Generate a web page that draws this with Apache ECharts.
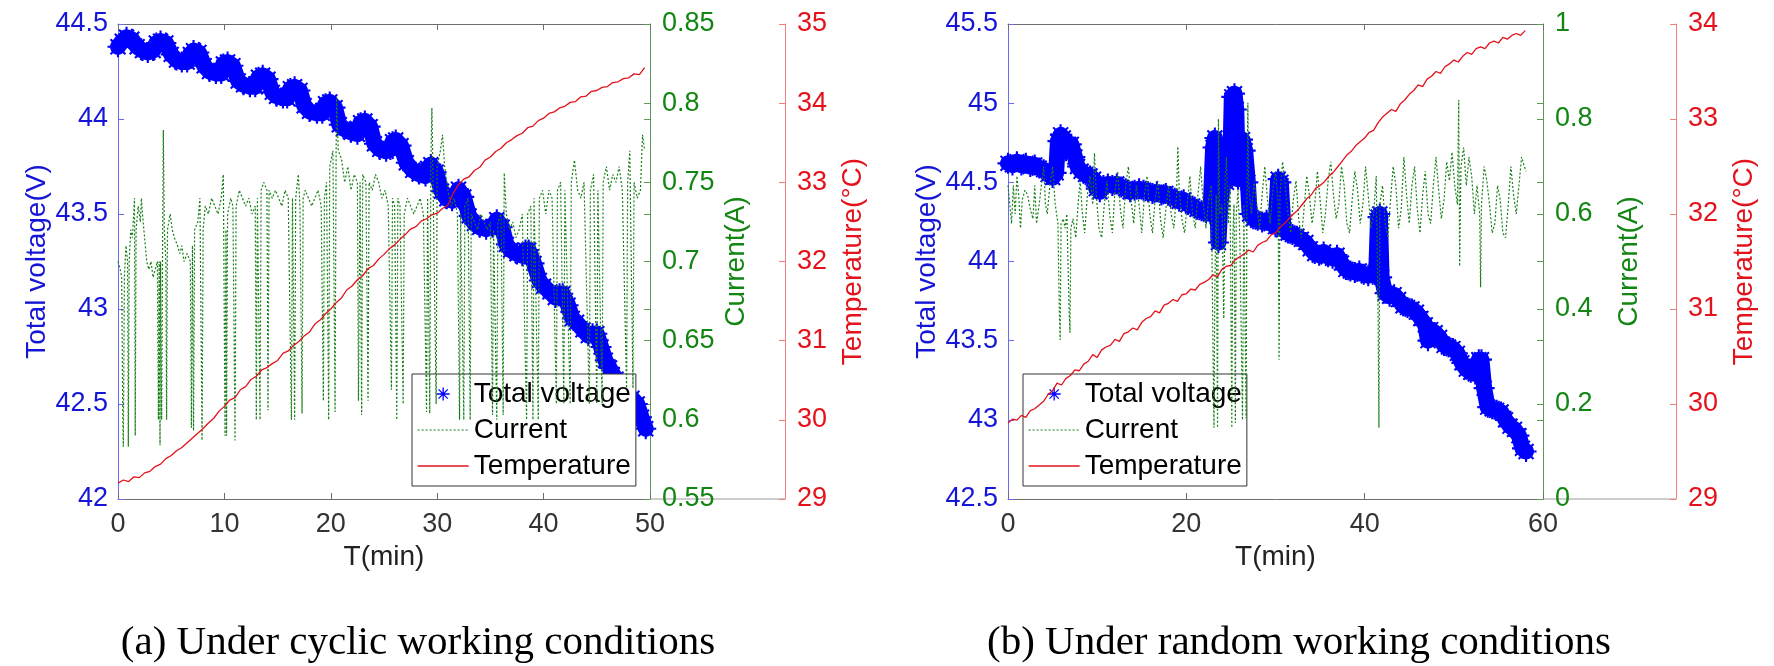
<!DOCTYPE html>
<html>
<head>
<meta charset="utf-8">
<script src="https://cdn.jsdelivr.net/npm/echarts@6/dist/echarts.min.js"></script>
<style>
html,body{margin:0;padding:0;background:#fff;}
#chart{width:1774px;height:666px;}
</style>
</head>
<body>
<div id="chart"></div>
<script>
// ---------------- DATA ----------------
// (a) cyclic working conditions : [time(min), value]
const voltA = [[0,44.38],[0.4,44.41],[0.8,44.43],[1.3,44.42],[1.8,44.38],[2.3,44.36],[2.8,44.35],[3.3,44.36],[3.6,44.40],[4.0,44.41],[4.5,44.40],[5.0,44.34],[5.5,44.31],[6.0,44.30],[6.5,44.30],[6.8,44.34],[7.1,44.36],[7.6,44.35],[8.1,44.28],[8.6,44.25],[9.2,44.24],[9.7,44.24],[9.9,44.29],[10.3,44.30],[10.8,44.28],[11.3,44.20],[11.8,44.18],[12.4,44.17],[12.9,44.17],[13.2,44.22],[13.6,44.23],[14.1,44.21],[14.5,44.14],[14.9,44.12],[15.5,44.11],[15.9,44.11],[16.2,44.16],[16.6,44.17],[17.1,44.15],[17.5,44.07],[18.0,44.04],[18.7,44.03],[19.2,44.03],[19.5,44.08],[19.9,44.09],[20.4,44.06],[20.8,43.97],[21.2,43.95],[21.9,43.93],[22.5,43.92],[22.8,43.98],[23.2,43.99],[23.7,43.96],[24.1,43.87],[24.6,43.84],[25.2,43.83],[25.6,43.84],[25.8,43.88],[26.1,43.89],[26.6,43.86],[27.1,43.77],[27.7,43.73],[28.3,43.71],[28.9,43.70],[29.1,43.74],[29.4,43.76],[29.9,43.72],[30.4,43.62],[30.9,43.58],[31.4,43.57],[31.7,43.60],[32.0,43.63],[32.5,43.59],[33.0,43.49],[33.5,43.45],[34.0,43.43],[34.6,43.42],[35.2,43.43],[35.6,43.47],[36.1,43.43],[36.5,43.34],[36.9,43.31],[37.5,43.29],[38.0,43.28],[38.3,43.31],[38.6,43.31],[39.1,43.24],[39.6,43.15],[40.0,43.12],[40.6,43.09],[41.1,43.06],[41.5,43.08],[41.8,43.08],[42.3,43.02],[42.7,42.95],[43.1,42.93],[43.7,42.89],[44.2,42.86],[44.6,42.87],[45.0,42.87],[45.4,42.80],[45.8,42.73],[46.2,42.69],[46.8,42.63],[47.3,42.58],[47.8,42.55],[48.3,42.53],[48.8,42.50],[49.2,42.43],[49.6,42.37]];

const currA = [[0.0,0.70],[0.2,0.695],[0.35,0.69],[0.45,0.60],[0.5,0.583],[0.6,0.69],[0.75,0.71],[0.9,0.70],[0.97,0.583],[1.05,0.70],[1.2,0.72],[1.35,0.715],[1.55,0.74],[1.62,0.59],[1.7,0.72],[1.9,0.735],[2.1,0.725],[2.2,0.74],[2.3,0.73],[2.5,0.715],[2.7,0.70],[2.9,0.695],[3.1,0.70],[3.3,0.69],[3.5,0.695],[3.7,0.70],[3.8,0.60],[3.87,0.70],[3.95,0.584],[4.0,0.70],[4.1,0.60],[4.2,0.72],[4.26,0.783],[4.35,0.72],[4.5,0.70],[4.57,0.60],[4.65,0.72],[4.9,0.73],[5.1,0.72],[5.3,0.715],[5.6,0.71],[5.8,0.705],[6.0,0.71],[6.2,0.70],[6.5,0.705],[6.8,0.70],[6.9,0.595],[7.0,0.71],[7.1,0.593],[7.2,0.72],[7.5,0.725],[7.7,0.74],[7.9,0.587],[8.0,0.72],[8.2,0.735],[8.5,0.73],[8.8,0.74],[9.1,0.735],[9.4,0.73],[9.7,0.74],[9.9,0.755],[10.06,0.59],[10.15,0.72],[10.2,0.59],[10.3,0.73],[10.6,0.74],[10.8,0.735],[11.0,0.587],[11.1,0.735],[11.4,0.745],[11.7,0.74],[12.0,0.735],[12.3,0.74],[12.6,0.73],[12.9,0.735],[13.0,0.60],[13.1,0.74],[13.35,0.60],[13.45,0.745],[13.7,0.75],[14.0,0.745],[14.1,0.606],[14.2,0.745],[14.5,0.74],[14.8,0.745],[15.1,0.74],[15.4,0.735],[15.7,0.745],[16.0,0.74],[16.3,0.60],[16.4,0.74],[16.6,0.60],[16.7,0.74],[16.95,0.755],[17.1,0.735],[17.3,0.604],[17.4,0.74],[17.6,0.745],[17.9,0.74],[18.2,0.735],[18.5,0.74],[18.8,0.745],[19.1,0.735],[19.3,0.612],[19.4,0.74],[19.6,0.75],[19.8,0.60],[19.9,0.76],[20.2,0.77],[20.4,0.605],[20.5,0.77],[20.55,0.804],[20.7,0.77],[21.0,0.765],[21.3,0.75],[21.6,0.76],[21.9,0.745],[22.2,0.755],[22.5,0.75],[22.6,0.612],[22.75,0.75],[22.9,0.603],[23.0,0.755],[23.3,0.75],[23.5,0.612],[23.6,0.75],[23.9,0.745],[24.2,0.755],[24.5,0.75],[24.8,0.74],[25.1,0.745],[25.4,0.735],[25.7,0.619],[25.8,0.74],[26.0,0.735],[26.2,0.60],[26.3,0.74],[26.5,0.735],[26.8,0.61],[26.9,0.73],[27.2,0.74],[27.5,0.735],[27.8,0.73],[28.1,0.735],[28.4,0.74],[28.7,0.73],[29.0,0.605],[29.1,0.74],[29.3,0.604],[29.4,0.76],[29.5,0.797],[29.6,0.755],[29.9,0.61],[30.0,0.76],[30.3,0.77],[30.5,0.78],[30.7,0.76],[31.0,0.745],[31.3,0.735],[31.6,0.74],[31.9,0.73],[32.1,0.60],[32.2,0.73],[32.5,0.60],[32.6,0.735],[32.9,0.74],[33.1,0.60],[33.2,0.73],[33.5,0.725],[33.8,0.72],[34.1,0.73],[34.4,0.725],[34.7,0.72],[35.0,0.725],[35.2,0.603],[35.3,0.72],[35.6,0.60],[35.7,0.725],[36.0,0.73],[36.2,0.603],[36.3,0.756],[36.5,0.73],[36.8,0.72],[37.1,0.725],[37.4,0.715],[37.7,0.72],[38.0,0.73],[38.4,0.60],[38.5,0.73],[38.8,0.735],[39.0,0.60],[39.1,0.74],[39.5,0.60],[39.6,0.74],[39.9,0.745],[40.2,0.73],[40.5,0.745],[40.8,0.74],[41.2,0.61],[41.3,0.745],[41.6,0.75],[41.9,0.61],[42.0,0.745],[42.5,0.61],[42.6,0.75],[42.9,0.764],[43.2,0.745],[43.5,0.74],[43.8,0.75],[44.3,0.61],[44.4,0.745],[44.7,0.755],[45.0,0.61],[45.1,0.745],[45.5,0.61],[45.6,0.75],[45.9,0.76],[46.2,0.745],[46.5,0.755],[46.8,0.75],[47.1,0.76],[47.4,0.745],[47.8,0.62],[47.9,0.75],[48.1,0.77],[48.4,0.62],[48.5,0.75],[48.8,0.74],[49.1,0.745],[49.3,0.78],[49.5,0.77]];

const tempA = [[0,29.20],[0.5,29.24],[1,29.22],[1.5,29.28],[2,29.27],[2.5,29.33],[3,29.35],[3.5,29.41],[4,29.44],[4.5,29.51],[5,29.55],[5.5,29.61],[6,29.65],[6.5,29.71],[7,29.77],[7.5,29.83],[8,29.89],[8.5,29.96],[9,30.02],[9.5,30.11],[10,30.17],[10.5,30.25],[11,30.28],[11.5,30.38],[12,30.42],[12.5,30.51],[13,30.55],[13.5,30.63],[14,30.66],[14.5,30.71],[15,30.75],[15.5,30.84],[16,30.87],[16.5,30.94],[17,30.99],[17.5,31.06],[18,31.11],[18.5,31.21],[19,31.26],[19.5,31.34],[20,31.40],[20.5,31.48],[21,31.54],[21.5,31.64],[22,31.69],[22.5,31.77],[23,31.82],[23.5,31.91],[24,31.95],[24.5,32.03],[25,32.09],[25.5,32.16],[26,32.21],[26.5,32.28],[27,32.34],[27.5,32.41],[28,32.44],[28.5,32.51],[29,32.54],[29.5,32.59],[30,32.61],[30.5,32.67],[31,32.71],[31.5,32.86],[32,32.97],[32.5,33.04],[33,33.07],[33.5,33.15],[34,33.19],[34.5,33.28],[35,33.32],[35.5,33.39],[36,33.43],[36.5,33.50],[37,33.54],[37.5,33.59],[38,33.62],[38.5,33.69],[39,33.71],[39.5,33.78],[40,33.81],[40.5,33.87],[41,33.89],[41.5,33.94],[42,33.96],[42.5,34.01],[43,34.02],[43.5,34.08],[44,34.09],[44.5,34.15],[45,34.16],[45.5,34.20],[46,34.21],[46.5,34.26],[47,34.27],[47.5,34.31],[48,34.32],[48.5,34.37],[49,34.36],[49.5,34.45]];

// (b) random working conditions : [time(min), value]
const voltB = [[0.0,44.62],[0.5,44.61],[1.0,44.63],[1.5,44.61],[2.0,44.62],[2.5,44.60],[3.0,44.61],[3.5,44.59],[4.0,44.58],[4.5,44.55],[5.0,44.53],[5.4,44.56],[5.6,44.76],[5.9,44.80],[6.2,44.78],[6.5,44.70],[6.8,44.74],[7.1,44.74],[7.5,44.66],[7.8,44.60],[8.2,44.57],[8.7,44.55],[9.2,44.54],[9.6,44.52],[9.9,44.46],[10.3,44.44],[10.7,44.48],[11.2,44.49],[11.7,44.48],[12.2,44.49],[12.7,44.47],[13.2,44.46],[13.7,44.44],[14.2,44.45],[14.7,44.46],[15.2,44.45],[15.7,44.44],[16.2,44.43],[16.7,44.44],[17.2,44.42],[17.7,44.43],[18.2,44.41],[18.7,44.40],[19.2,44.38],[19.7,44.39],[20.2,44.36],[20.7,44.35],[21.2,44.33],[21.7,44.32],[22.2,44.31],[22.7,44.30],[23.0,44.72],[23.2,44.78],[23.4,44.60],[23.6,44.12],[23.8,44.35],[24.1,44.48],[24.5,44.50],[24.9,44.55],[25.1,45.04],[25.4,45.06],[25.6,44.96],[25.8,44.52],[26.0,44.75],[26.3,44.77],[26.6,44.70],[26.9,44.50],[27.1,44.30],[27.5,44.27],[28.0,44.26],[28.5,44.25],[29.0,44.26],[29.5,44.24],[30.0,44.22],[30.3,44.52],[30.6,44.50],[30.9,44.20],[31.4,44.18],[31.9,44.17],[32.4,44.16],[32.9,44.14],[33.4,44.12],[33.9,44.08],[34.4,44.05],[34.9,44.04],[35.4,44.06],[35.9,44.03],[36.4,44.02],[36.9,44.04],[37.4,43.99],[37.9,43.95],[38.4,43.94],[38.9,43.93],[39.4,43.94],[39.9,43.92],[40.4,43.91],[40.9,43.92],[41.3,43.94],[41.5,44.28],[41.7,44.30],[41.9,43.90],[42.3,43.80],[42.8,43.78],[43.3,43.79],[43.8,43.76],[44.3,43.72],[44.8,43.71],[45.3,43.70],[45.8,43.68],[46.3,43.64],[46.8,43.60],[47.1,43.50],[47.4,43.57],[47.9,43.55],[48.4,43.52],[48.9,43.47],[49.4,43.46],[49.9,43.45],[50.4,43.42],[50.9,43.36],[51.4,43.32],[51.9,43.30],[52.4,43.29],[52.8,43.38],[53.1,43.38],[53.4,43.20],[53.8,43.08],[54.3,43.07],[54.8,43.06],[55.3,43.05],[55.8,43.00],[56.3,42.96],[56.8,42.94],[57.3,42.90],[57.7,42.82],[58.1,42.80]];

const currB = [[0.0,0.66],[0.2,0.62],[0.4,0.58],[0.6,0.66],[0.8,0.60],[1.0,0.68],[1.2,0.64],[1.4,0.57],[1.6,0.63],[1.9,0.65],[2.2,0.64],[2.5,0.61],[2.8,0.59],[3.0,0.66],[3.2,0.58],[3.5,0.62],[3.8,0.67],[4.0,0.70],[4.2,0.62],[4.4,0.60],[4.7,0.66],[5.0,0.70],[5.3,0.62],[5.6,0.58],[5.75,0.40],[5.85,0.335],[5.95,0.58],[6.2,0.59],[6.4,0.57],[6.6,0.60],[6.85,0.40],[6.95,0.35],[7.05,0.57],[7.3,0.59],[7.6,0.55],[7.9,0.63],[8.1,0.67],[8.3,0.61],[8.6,0.56],[8.9,0.64],[9.2,0.68],[9.5,0.62],[9.7,0.728],[9.9,0.64],[10.2,0.57],[10.5,0.55],[10.8,0.62],[11.1,0.67],[11.4,0.60],[11.7,0.56],[12.0,0.65],[12.3,0.69],[12.6,0.61],[12.9,0.57],[13.2,0.66],[13.5,0.70],[13.8,0.63],[14.1,0.58],[14.4,0.66],[14.7,0.62],[15.0,0.56],[15.3,0.64],[15.6,0.68],[15.9,0.60],[16.2,0.56],[16.5,0.63],[16.8,0.67],[17.1,0.59],[17.4,0.55],[17.7,0.61],[18.0,0.66],[18.3,0.60],[18.6,0.57],[18.9,0.64],[19.05,0.742],[19.2,0.65],[19.5,0.59],[19.8,0.56],[20.1,0.62],[20.4,0.68],[20.7,0.60],[21.0,0.57],[21.3,0.64],[21.6,0.70],[21.9,0.62],[22.2,0.57],[22.5,0.63],[22.8,0.66],[23.0,0.30],[23.1,0.15],[23.2,0.45],[23.35,0.64],[23.5,0.15],[23.6,0.80],[23.75,0.60],[24.0,0.62],[24.2,0.38],[24.35,0.68],[24.5,0.72],[24.7,0.58],[24.9,0.66],[25.1,0.15],[25.2,0.55],[25.35,0.62],[25.5,0.16],[25.6,0.60],[25.8,0.65],[26.0,0.55],[26.3,0.166],[26.45,0.62],[26.7,0.17],[26.8,0.64],[26.9,0.834],[27.0,0.66],[27.3,0.60],[27.6,0.67],[27.9,0.62],[28.2,0.57],[28.5,0.64],[28.8,0.70],[29.1,0.63],[29.4,0.58],[29.7,0.65],[30.0,0.69],[30.3,0.62],[30.4,0.293],[30.5,0.64],[30.8,0.71],[31.1,0.66],[31.4,0.60],[31.7,0.56],[32.0,0.63],[32.3,0.67],[32.6,0.59],[32.9,0.55],[33.2,0.61],[33.5,0.68],[33.8,0.64],[34.1,0.58],[34.4,0.62],[34.7,0.69],[35.0,0.63],[35.3,0.56],[35.6,0.60],[35.9,0.67],[36.2,0.71],[36.5,0.64],[36.8,0.59],[37.1,0.62],[37.4,0.70],[37.7,0.66],[38.0,0.58],[38.3,0.56],[38.6,0.63],[38.9,0.69],[39.2,0.65],[39.5,0.58],[39.8,0.62],[40.1,0.70],[40.4,0.64],[40.7,0.57],[41.0,0.60],[41.3,0.68],[41.5,0.40],[41.6,0.15],[41.7,0.62],[42.0,0.66],[42.3,0.58],[42.6,0.55],[42.9,0.63],[43.2,0.70],[43.5,0.66],[43.8,0.57],[44.1,0.61],[44.4,0.72],[44.7,0.64],[45.0,0.58],[45.3,0.66],[45.6,0.70],[45.9,0.61],[46.2,0.56],[46.5,0.64],[46.8,0.69],[47.1,0.60],[47.4,0.58],[47.7,0.66],[48.0,0.72],[48.3,0.65],[48.6,0.59],[48.9,0.63],[49.2,0.71],[49.5,0.67],[49.8,0.73],[50.1,0.66],[50.4,0.62],[50.55,0.84],[50.65,0.49],[50.8,0.70],[51.1,0.74],[51.4,0.66],[51.7,0.72],[52.0,0.68],[52.3,0.60],[52.6,0.66],[52.9,0.60],[53.0,0.446],[53.1,0.62],[53.4,0.70],[53.7,0.67],[54.0,0.62],[54.3,0.56],[54.6,0.58],[54.9,0.66],[55.2,0.63],[55.5,0.56],[55.8,0.55],[56.1,0.62],[56.4,0.70],[56.7,0.64],[57.0,0.60],[57.3,0.66],[57.6,0.72],[57.9,0.70],[58.1,0.69]];

const tempB = [[0,29.80],[0.5,29.84],[1,29.83],[1.5,29.88],[2,29.86],[2.5,29.93],[3,29.95],[3.5,29.99],[4,30.03],[4.5,30.10],[5,30.14],[5.5,30.22],[6,30.20],[6.5,30.27],[7,30.30],[7.5,30.36],[8,30.35],[8.5,30.42],[9,30.45],[9.5,30.52],[10,30.49],[10.5,30.57],[11,30.60],[11.5,30.62],[12,30.68],[12.5,30.66],[13,30.74],[13.5,30.76],[14,30.80],[14.5,30.78],[15,30.86],[15.5,30.90],[16,30.92],[16.5,30.98],[17,30.96],[17.5,31.04],[18,31.06],[18.5,31.10],[19,31.08],[19.5,31.15],[20,31.16],[20.5,31.21],[21,31.20],[21.5,31.26],[22,31.28],[22.5,31.31],[23,31.36],[23.5,31.34],[24,31.42],[24.5,31.45],[25,31.46],[25.5,31.52],[26,31.55],[26.5,31.58],[27,31.62],[27.5,31.60],[28,31.67],[28.5,31.70],[29,31.72],[29.5,31.78],[30,31.80],[30.5,31.86],[31,31.90],[31.5,31.95],[32,32.00],[32.5,32.04],[33,32.10],[33.5,32.16],[34,32.20],[34.5,32.27],[35,32.30],[35.5,32.34],[36,32.40],[36.5,32.44],[37,32.50],[37.5,32.56],[38,32.62],[38.5,32.66],[39,32.72],[39.5,32.76],[40,32.80],[40.5,32.86],[41,32.88],[41.5,32.96],[42,33.02],[42.5,33.06],[43,33.10],[43.5,33.08],[44,33.16],[44.5,33.20],[45,33.26],[45.5,33.30],[46,33.36],[46.5,33.34],[47,33.42],[47.5,33.45],[48,33.50],[48.5,33.48],[49,33.55],[49.5,33.58],[50,33.62],[50.5,33.60],[51,33.66],[51.5,33.70],[52,33.68],[52.5,33.74],[53,33.76],[53.5,33.74],[54,33.80],[54.5,33.82],[55,33.80],[55.5,33.86],[56,33.84],[56.5,33.88],[57,33.90],[57.5,33.88],[58,33.93]];

const seriesNames = ['Total voltage', 'Current', 'Temperature'];
const axisNames = { x: 'T(min)', volt: 'Total voltage(V)', curr: 'Current(A)', temp: 'Temperature(°C)' };
const captions = ['(a) Under cyclic working conditions', '(b) Under random working conditions'];
// axis ranges: [min, max, interval]
const xRangeA = [0, 50, 10], voltRangeA = [42, 44.5, 0.5], currRangeA = [0.55, 0.85, 0.05], tempRangeA = [29, 35, 1];
const xRangeB = [0, 60, 20], voltRangeB = [42.5, 45.5, 0.5], currRangeB = [0, 1, 0.2], tempRangeB = [29, 34, 1];

// ---------------- STYLE / LAYOUT ----------------
const FONT = '"Liberation Sans", Arial, Helvetica, sans-serif';
const SERIF = '"Liberation Serif", "Times New Roman", serif';
const BLUE = '#0000ff', BLUE_TXT = '#1515d8', BLUE_AX = '#6a6af0';
const GREEN = '#167f16', GREEN_TXT = '#138513', GREEN_AX = '#5a9a5a';
const RED = '#e3121b', RED_TXT = '#e3121b', RED_AX = '#f08080';
const GRAY = '#6e6e6e';
const STAR = 'path://M9 0H11V20H9Z M0 9H20V11H0Z M2.2 3.6L3.6 2.2L17.8 16.4L16.4 17.8Z M16.4 2.2L17.8 3.6L3.6 17.8L2.2 16.4Z';

const G = [
  { left: 118, top: 24, width: 532, height: 475, tempOffset: 135, legendLeft: 412, capX: 418 },
  { left: 1008, top: 24, width: 535, height: 475, tempOffset: 133, legendLeft: 1023, capX: 1299 }
];

function xAxes(gi, r) {
  return [
    { gridIndex: gi, type: 'value', position: 'bottom', min: r[0], max: r[1], interval: r[2],
      name: axisNames.x, nameLocation: 'middle', nameGap: 44,
      nameTextStyle: { fontSize: 28, color: '#222', fontFamily: FONT },
      axisLine: { show: true, onZero: false, lineStyle: { color: GRAY, width: 1 } },
      axisTick: { show: true, inside: true, length: 6, lineStyle: { color: GRAY } },
      axisLabel: { fontSize: 27, color: '#333', margin: 12, fontFamily: FONT },
      splitLine: { show: false } },
    { gridIndex: gi, type: 'value', position: 'top', min: r[0], max: r[1], interval: r[2],
      axisLine: { show: true, onZero: false, lineStyle: { color: GRAY, width: 1 } },
      axisTick: { show: true, inside: true, length: 6, lineStyle: { color: GRAY } },
      axisLabel: { show: false }, splitLine: { show: false } }
  ];
}
function yAxes(gi, vr, cr, tr, off) {
  return [
    { gridIndex: gi, type: 'value', position: 'left', min: vr[0], max: vr[1], interval: vr[2],
      name: axisNames.volt, nameLocation: 'middle', nameGap: 66,
      nameTextStyle: { fontSize: 28, color: BLUE_TXT, fontFamily: FONT },
      axisLine: { show: true, onZero: false, lineStyle: { color: BLUE_AX } },
      axisTick: { show: true, inside: true, length: 6, lineStyle: { color: BLUE_AX } },
      axisLabel: { fontSize: 27, color: BLUE_TXT, margin: 10, fontFamily: FONT },
      splitLine: { show: false } },
    { gridIndex: gi, type: 'value', position: 'right', offset: 0, min: cr[0], max: cr[1], interval: cr[2],
      name: axisNames.curr, nameLocation: 'middle', nameGap: 72,
      nameTextStyle: { fontSize: 28, color: GREEN_TXT, fontFamily: FONT },
      axisLine: { show: true, onZero: false, lineStyle: { color: GREEN_AX } },
      axisTick: { show: true, inside: true, length: 6, lineStyle: { color: GREEN_AX } },
      axisLabel: { fontSize: 27, color: GREEN_TXT, margin: 12, fontFamily: FONT },
      splitLine: { show: false } },
    { gridIndex: gi, type: 'value', position: 'right', offset: off, min: tr[0], max: tr[1], interval: tr[2],
      name: axisNames.temp, nameLocation: 'middle', nameGap: 54,
      nameTextStyle: { fontSize: 28, color: RED_TXT, fontFamily: FONT },
      axisLine: { show: true, onZero: false, lineStyle: { color: RED_AX } },
      axisTick: { show: true, inside: true, length: 6, lineStyle: { color: RED_AX } },
      axisLabel: { fontSize: 27, color: RED_TXT, margin: 12, fontFamily: FONT },
      splitLine: { show: false } },
    // mirrored voltage ticks on the right edge of the box
    { gridIndex: gi, type: 'value', position: 'right', offset: 0, min: vr[0], max: vr[1], interval: vr[2],
      axisLine: { show: false, onZero: false },
      axisTick: { show: true, inside: true, length: 6, lineStyle: { color: GREEN_AX } },
      axisLabel: { show: false }, splitLine: { show: false } }
  ];
}
function seriesFor(gi, volt, curr, temp) {
  const xi = gi * 2, yi = gi * 4;
  return [
    { name: seriesNames[0], type: 'line', xAxisIndex: xi, yAxisIndex: yi, data: volt,
      symbol: STAR, symbolSize: 21, showSymbol: true, showAllSymbol: true,
      itemStyle: { color: BLUE }, lineStyle: { color: BLUE, width: 16, join: 'round', cap: 'round' },
      z: 2, silent: true },
    { name: seriesNames[1], type: 'line', xAxisIndex: xi, yAxisIndex: yi + 1, data: curr,
      symbol: 'none', itemStyle: { color: GREEN },
      lineStyle: { color: GREEN, width: 1.2, type: [2, 2] }, z: 6, silent: true },
    { name: seriesNames[2], type: 'line', xAxisIndex: xi, yAxisIndex: yi + 2, data: temp,
      symbol: 'none', itemStyle: { color: RED },
      lineStyle: { color: RED, width: 1.3 }, z: 6, silent: true }
  ];
}
const hiddenSymbol = { color: 'rgba(0,0,0,0)', borderColor: 'rgba(0,0,0,0)', borderWidth: 0, opacity: 0 };
function legendFor(g) {
  return { left: g.legendLeft, top: 374, orient: 'vertical', selectedMode: false,
    backgroundColor: '#fff', borderColor: '#333', borderWidth: 1, borderRadius: 0,
    padding: [6, 5, 6, 5], itemGap: 8, itemWidth: 51, itemHeight: 13,
    textStyle: { fontSize: 28, color: '#000', fontFamily: FONT },
    data: [{ name: seriesNames[0], icon: STAR },
           { name: seriesNames[1], itemStyle: hiddenSymbol, lineStyle: { color: GREEN, width: 1.2, type: [2, 2] } },
           { name: seriesNames[2], itemStyle: hiddenSymbol, lineStyle: { color: RED, width: 1.3 } }] };
}

const option = {
  animation: false,
  backgroundColor: '#fff',
  grid: G.map(g => ({ left: g.left, top: g.top, width: g.width, height: g.height, containLabel: false })),
  xAxis: [...xAxes(0, xRangeA), ...xAxes(1, xRangeB)],
  yAxis: [...yAxes(0, voltRangeA, currRangeA, tempRangeA, G[0].tempOffset),
          ...yAxes(1, voltRangeB, currRangeB, tempRangeB, G[1].tempOffset)],
  legend: [legendFor(G[0]), legendFor(G[1])],
  series: [...seriesFor(0, voltA, currA, tempA), ...seriesFor(1, voltB, currB, tempB)],
  graphic: [
    ...G.map(g => ({ type: 'line', silent: true,
      shape: { x1: g.left + g.width, y1: g.top + g.height, x2: g.left + g.width + g.tempOffset, y2: g.top + g.height },
      style: { stroke: '#9a9a9a', lineWidth: 1 } })),
    ...G.map((g, i) => ({ type: 'text', x: g.capX, y: 643, silent: true,
      style: { text: captions[i], fontSize: 41, fontFamily: SERIF, fill: '#000',
               align: 'center', verticalAlign: 'middle', textAlign: 'center', textVerticalAlign: 'middle' } }))
  ]
};

const chart = echarts.init(document.getElementById('chart'), null, { renderer: 'canvas' });
chart.setOption(option);
</script>
</body>
</html>
